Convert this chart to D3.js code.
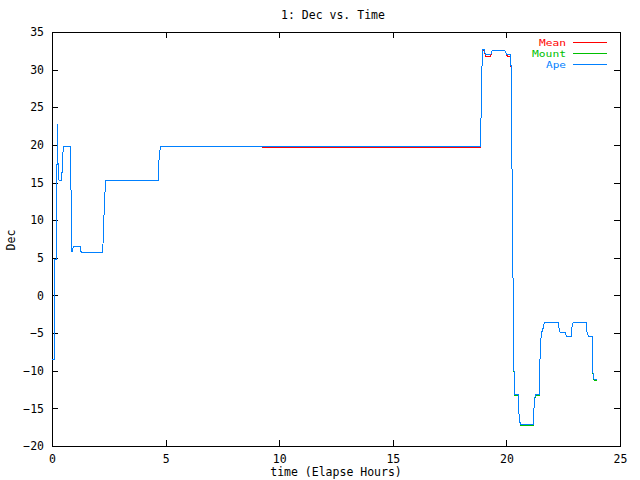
<!DOCTYPE html>
<html>
<head>
<meta charset="utf-8">
<script src="https://cdn.jsdelivr.net/npm/d3@7"></script>
<style>
  body { margin: 0; background: #fff; }
  text { font-family: "DejaVu Sans Mono", monospace; font-size: 11.5px; }
</style>
</head>
<body>
<svg id="chart" width="640" height="480"></svg>
<script>
// elapsed hours (shared by all three series)
const times = [0, 0.12, 0.13, 0.18, 0.19, 0.22, 0.23, 0.25, 0.27, 0.31, 0.41, 0.42, 0.47, 0.48, 0.50,
  0.82, 0.84, 0.88, 0.92, 0.97, 1.23, 1.25, 1.29, 2.24, 2.25, 2.32, 2.36, 4.68, 4.69, 4.72, 4.78,
  9.24, 9.25, 18.87, 18.88, 18.91, 18.96, 19.01, 19.05, 19.07, 19.31, 19.37, 19.94, 19.98, 20.04,
  20.20, 20.21, 20.26, 20.31, 20.35, 20.52, 20.53, 20.56, 20.61, 21.18, 21.19, 21.23, 21.27, 21.45,
  21.46, 21.49, 21.54, 21.60, 21.64, 21.69, 22.30, 22.32, 22.36, 22.58, 22.60, 22.65, 22.87, 22.89,
  22.94, 23.53, 23.55, 23.62, 23.77, 23.79, 23.86, 23.97];

const meanDec = [-8.5, -8.5, 4.8, 4.8, 16.7, 16.7, 22.8, 20.9, 16.4, 15.3, 15.3, 16.4, 16.4, 18.7, 19.85,
  19.85, 12.9, 5.8, 6.25, 6.57, 6.57, 6.1, 5.73, 5.73, 7.95, 12.9, 15.3, 15.3, 16.4, 18.7, 19.85,
  19.85, 19.62, 19.62, 23.1, 29.4, 32.6, 32.6, 32.3, 31.8, 31.8, 32.5, 32.5, 32.2, 31.8,
  31.8, 27.1, 13.2, -4.4, -13.2, -13.2, -14.25, -16.0, -17.1, -17.1, -16.1, -14.25, -13.2, -13.2,
  -11.1, -7.0, -4.95, -4.6, -3.9, -3.6, -3.6, -4.5, -4.9, -4.9, -5.1, -5.4, -5.4, -4.06,
  -3.6, -3.6, -4.95, -5.5, -5.5, -9.9, -11.2, -11.2];

const mountDec = [-8.5, -8.5, 4.8, 4.8, 16.7, 16.7, 22.8, 20.9, 16.4, 15.3, 15.3, 16.4, 16.4, 18.7, 19.85,
  19.85, 12.9, 5.8, 6.25, 6.57, 6.57, 6.1, 5.73, 5.73, 7.95, 12.9, 15.3, 15.3, 16.4, 18.7, 19.85,
  19.85, 19.77, 19.77, 23.1, 29.4, 32.7, 32.7, 32.4, 31.95, 31.95, 32.5, 32.5, 32.25, 31.95,
  31.95, 27.1, 13.2, -4.4, -13.35, -13.35, -14.25, -16.0, -17.25, -17.25, -16.1, -14.25, -13.35, -13.35,
  -11.1, -7.0, -4.95, -4.6, -3.9, -3.6, -3.6, -4.5, -4.9, -4.9, -5.1, -5.4, -5.4, -4.06,
  -3.6, -3.6, -4.95, -5.5, -5.5, -9.9, -11.35, -11.35];

const apeDec = [-8.5, -8.5, 4.8, 4.8, 16.7, 16.7, 22.8, 20.9, 16.4, 15.3, 15.3, 16.4, 16.4, 18.7, 19.85,
  19.85, 12.9, 5.8, 6.25, 6.57, 6.57, 6.1, 5.73, 5.73, 7.95, 12.9, 15.3, 15.3, 16.4, 18.7, 19.85,
  19.85, 19.77, 19.77, 23.1, 29.4, 32.7, 32.7, 32.4, 31.95, 31.95, 32.5, 32.5, 32.25, 31.95,
  31.95, 27.1, 13.2, -4.4, -13.2, -13.2, -14.25, -16.0, -17.1, -17.1, -16.1, -14.25, -13.2, -13.2,
  -11.1, -7.0, -4.95, -4.6, -3.9, -3.6, -3.6, -4.5, -4.9, -4.9, -5.1, -5.4, -5.4, -4.06,
  -3.6, -3.6, -4.95, -5.5, -5.5, -9.9, -11.2, -11.2];

const seriesNames = ["Mean", "Mount", "Ape"];
const seriesColors = ["#ff0000", "#00c000", "#0080ff"];
const xTicks = [0, 5, 10, 15, 20, 25];
const yTicks = [-20, -15, -10, -5, 0, 5, 10, 15, 20, 25, 30, 35];

const plotLeft = 52, plotRight = 620, plotTop = 32, plotBottom = 446;

const svg = d3.select("#chart");

const x = d3.scaleLinear().domain([0, 25]).range([plotLeft, plotRight]);
const y = d3.scaleLinear().domain([-20, 35]).range([plotBottom, plotTop]);

// axes, ticks pointing inward on all four sides
svg.append("g")
  .attr("transform", "translate(0," + plotBottom + ")")
  .call(d3.axisBottom(x).tickValues(xTicks).tickSizeInner(-6).tickSizeOuter(0).tickPadding(9))
  .call(g => g.select(".domain").remove());
svg.append("g")
  .attr("transform", "translate(0," + plotTop + ")")
  .call(d3.axisTop(x).tickValues(xTicks).tickSizeInner(-6).tickSizeOuter(0).tickFormat(""))
  .call(g => g.select(".domain").remove());
svg.append("g")
  .attr("transform", "translate(" + plotLeft + ",0)")
  .call(d3.axisLeft(y).tickValues(yTicks).tickSizeInner(-6).tickSizeOuter(0).tickPadding(8))
  .call(g => g.select(".domain").remove());
svg.append("g")
  .attr("transform", "translate(" + plotRight + ",0)")
  .call(d3.axisRight(y).tickValues(yTicks).tickSizeInner(-6).tickSizeOuter(0).tickFormat(""))
  .call(g => g.select(".domain").remove());

svg.selectAll(".tick line").attr("stroke", "#000").attr("shape-rendering", "crispEdges");
svg.selectAll(".tick text").attr("fill", "#000")
  .style("font-family", "'DejaVu Sans Mono', monospace").style("font-size", "11.5px");

svg.append("rect")
  .attr("x", plotLeft).attr("y", plotTop)
  .attr("width", plotRight - plotLeft).attr("height", plotBottom - plotTop)
  .attr("fill", "none").attr("stroke", "#000")
  .attr("shape-rendering", "crispEdges");

// series
const allDec = [meanDec, mountDec, apeDec];
const line = d3.line()
  .x(d => x(d[0]))
  .y(d => y(d[1]));

allDec.forEach(function(vals, i) {
  const pts = times.map((t, k) => [t, vals[k]]);
  svg.append("path")
    .attr("d", line(pts))
    .attr("fill", "none")
    .attr("stroke", seriesColors[i])
    .attr("stroke-width", 1)
    .attr("shape-rendering", "crispEdges");
});

// legend (smaller font stretched to the bitmap-font width so rows don't collide)
seriesNames.forEach(function(name, i) {
  const ly = 42.5 + i * 11;
  svg.append("text")
    .attr("x", 566).attr("y", ly + 3.5)
    .attr("text-anchor", "end")
    .attr("fill", seriesColors[i])
    .style("font-size", "9.2px")
    .attr("textLength", name.length * 7 - 1)
    .attr("lengthAdjust", "spacingAndGlyphs")
    .text(name);
  svg.append("line")
    .attr("x1", 573).attr("x2", 607)
    .attr("y1", ly).attr("y2", ly)
    .attr("stroke", seriesColors[i])
    .attr("shape-rendering", "crispEdges");
});

// titles
svg.append("text")
  .attr("x", 333).attr("y", 19)
  .attr("text-anchor", "middle")
  .text("1: Dec vs. Time");
svg.append("text")
  .attr("x", 336).attr("y", 476)
  .attr("text-anchor", "middle")
  .text("time (Elapse Hours)");
svg.append("text")
  .attr("transform", "translate(15,240) rotate(-90)")
  .attr("text-anchor", "middle")
  .text("Dec");
</script>
</body>
</html>
